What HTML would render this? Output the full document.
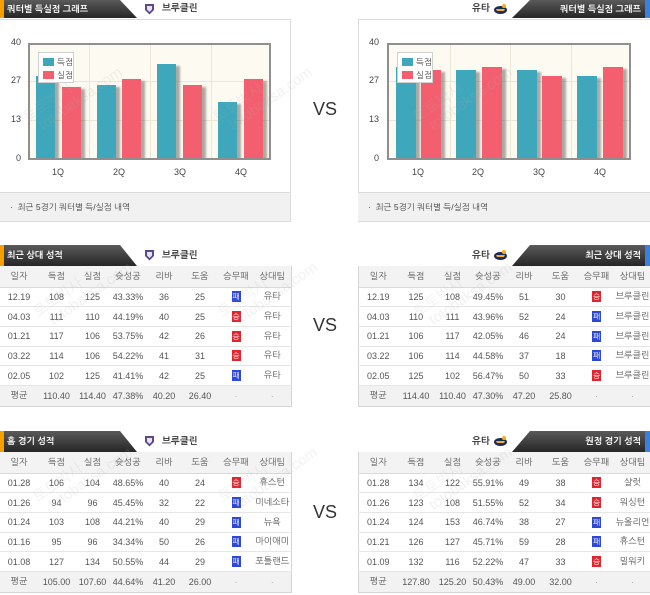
<!DOCTYPE html>
<html><head><meta charset="utf-8">
<style>
*{margin:0;padding:0;box-sizing:border-box}
body{width:650px;height:595px;background:#fff;position:relative;overflow:hidden;font-family:"Liberation Sans","NanumGothic","Noto Sans CJK KR",sans-serif;color:#555}
.a{position:absolute}
.tabL,.tabR{position:absolute;background:linear-gradient(#5a5a5a,#262626);color:#fff;font-weight:bold;font-size:9px;white-space:nowrap}
.tabL{left:0;clip-path:polygon(0 0,120px 0,137px 100%,0 100%);width:137px;padding-left:7px}
.tabR{left:512px;width:133px;clip-path:polygon(18px 0,100% 0,100% 100%,0 100%);text-align:right;padding-right:4px}
.strO{position:absolute;left:0;width:4px;background:#f5a000}
.strB{position:absolute;left:645px;width:5px;background:#3b7fe0}
.team{position:absolute;font-size:9.5px;font-weight:bold;color:#333;white-space:nowrap}
.panel{position:absolute;border:1px solid #dcdcdc;background:#fff}
.plot{position:absolute;border:2px solid #8f8f8f;background:#fdfaf1;overflow:hidden}
.gh{position:absolute;left:0;right:0;height:1px;background:#ece6d4}
.gv{position:absolute;top:0;bottom:0;width:1px;background:#ece6d4}
.bar{position:absolute;bottom:0;box-shadow:4px 2px 2px rgba(70,70,70,0.45)}
.t{background:#3fa7bb}.r{background:#f45f6f}
.yl{position:absolute;font-size:9px;color:#444;text-align:right;width:20px}
.xl{position:absolute;font-size:9px;color:#444;text-align:center;width:30px}
.leg{position:absolute;background:#fff;border:1px solid #d0d0d0;width:36px;height:31px}
.leg i{position:absolute;left:4px;width:11px;height:8px}
.leg span{position:absolute;left:18px;font-size:8.5px;color:#444;white-space:nowrap;line-height:10px}
.foot{position:absolute;height:30px;background:#f1f1f1;border-top:1px solid #dcdcdc;border-bottom:1px solid #dcdcdc;font-size:8.5px;color:#444;line-height:28px;padding-left:10px;white-space:nowrap}
.vs{position:absolute;left:300px;width:50px;text-align:center;font-size:18px;color:#333}
table{position:absolute;border-collapse:collapse;table-layout:fixed;font-size:9px;color:#555}
td{text-align:center;border-bottom:1px solid #e6e6e6;white-space:nowrap;overflow:hidden;padding:0}
tr.h td{background:#f3f3f3;height:21px;border-bottom:1px solid #dadada}
tr.d td{height:19.7px}
tr.v td{background:#f2f2f2;height:21px;border-bottom:1px solid #d5d5d5}
.tl{border-right:1px solid #d5d5d5}
.tr{border-left:1px solid #d5d5d5}
b.w,b.l{display:inline-block;width:9px;height:11px;font-size:7.5px;line-height:11px;color:#fff;font-weight:normal;vertical-align:middle}
b.w{background:#e3232d}b.l{background:#2d47d8}
.dot{color:#aaa}
.wm{position:absolute;color:rgba(170,170,170,0.17);font-size:15px;transform:rotate(-35deg);white-space:nowrap;line-height:15px}
</style></head><body>

<!-- ===== Section 1 ===== -->
<div class="tabL" style="top:0;height:18px;line-height:18px">쿼터별 득실점 그래프</div>
<div class="strO" style="top:0;height:18px"></div>
<svg class="a" style="left:144px;top:3px" width="11" height="12" viewBox="0 0 11 12"><path d="M1 1h9v6l-4.5 4.5L1 7z" fill="#5b4a8a"/><path d="M3 3h5v3.5L5.5 9 3 6.5z" fill="#e8e2f0"/></svg>
<div class="team" style="left:162px;top:3px">브루클린</div>

<div class="team" style="left:472px;top:3px">유타</div>
<svg class="a" style="left:493px;top:3px" width="15" height="12" viewBox="0 0 15 12"><ellipse cx="7.5" cy="7" rx="6.5" ry="4" fill="#1d2b5c"/><path d="M3 6h9l-1 2H4z" fill="#f3b31b"/><circle cx="11" cy="3" r="2" fill="#f3b31b"/></svg>
<div class="tabR" style="top:0;height:18px;line-height:18px">쿼터별 득실점 그래프</div>
<div class="strB" style="top:0;height:18px"></div>

<div class="panel" style="left:-1px;top:19px;width:292px;height:203px"></div>
<div class="panel" style="left:358px;top:19px;width:293px;height:203px"></div>

<!-- left chart -->
<div class="yl" style="left:1px;top:37px">40</div>
<div class="yl" style="left:1px;top:75px">27</div>
<div class="yl" style="left:1px;top:114px">13</div>
<div class="yl" style="left:1px;top:153px">0</div>
<div class="plot" style="left:28px;top:43px;width:243px;height:117px">
  <div class="gh" style="top:36px"></div><div class="gh" style="top:75px"></div>
  <div class="gv" style="left:59px"></div><div class="gv" style="left:120px"></div><div class="gv" style="left:181px"></div>
  <div class="bar t" style="left:6px;width:19px;height:82px"></div>
  <div class="bar r" style="left:32px;width:19px;height:71px"></div>
  <div class="bar t" style="left:67px;width:19px;height:73px"></div>
  <div class="bar r" style="left:92px;width:19px;height:79px"></div>
  <div class="bar t" style="left:127px;width:19px;height:94px"></div>
  <div class="bar r" style="left:153px;width:19px;height:73px"></div>
  <div class="bar t" style="left:188px;width:19px;height:56px"></div>
  <div class="bar r" style="left:214px;width:19px;height:79px"></div>
</div>
<div class="leg" style="left:38px;top:52px"><i class="t" style="top:5px"></i><span style="top:4px">득점</span><i class="r" style="top:18px"></i><span style="top:17px">실점</span></div>
<div class="xl" style="left:43px;top:167px">1Q</div>
<div class="xl" style="left:104px;top:167px">2Q</div>
<div class="xl" style="left:165px;top:167px">3Q</div>
<div class="xl" style="left:226px;top:167px">4Q</div>
<div class="foot" style="left:0;top:192px;width:290px">·&nbsp; 최근 5경기 쿼터별 득/실점 내역</div>

<!-- right chart -->
<div class="yl" style="left:359px;top:37px">40</div>
<div class="yl" style="left:359px;top:75px">27</div>
<div class="yl" style="left:359px;top:114px">13</div>
<div class="yl" style="left:359px;top:153px">0</div>
<div class="plot" style="left:387px;top:43px;width:244px;height:117px">
  <div class="gh" style="top:36px"></div><div class="gh" style="top:75px"></div>
  <div class="gv" style="left:61px"></div><div class="gv" style="left:121px"></div><div class="gv" style="left:182px"></div>
  <div class="bar t" style="left:7px;width:20px;height:91px"></div>
  <div class="bar r" style="left:32px;width:20px;height:88px"></div>
  <div class="bar t" style="left:67px;width:20px;height:88px"></div>
  <div class="bar r" style="left:93px;width:20px;height:91px"></div>
  <div class="bar t" style="left:128px;width:20px;height:88px"></div>
  <div class="bar r" style="left:153px;width:20px;height:82px"></div>
  <div class="bar t" style="left:188px;width:20px;height:82px"></div>
  <div class="bar r" style="left:214px;width:20px;height:91px"></div>
</div>
<div class="leg" style="left:397px;top:52px"><i class="t" style="top:5px"></i><span style="top:4px">득점</span><i class="r" style="top:18px"></i><span style="top:17px">실점</span></div>
<div class="xl" style="left:403px;top:167px">1Q</div>
<div class="xl" style="left:463px;top:167px">2Q</div>
<div class="xl" style="left:524px;top:167px">3Q</div>
<div class="xl" style="left:585px;top:167px">4Q</div>
<div class="foot" style="left:358px;top:192px;width:292px">·&nbsp; 최근 5경기 쿼터별 득/실점 내역</div>

<div class="vs" style="top:99px">VS</div>

<!-- ===== Section 2 ===== -->
<div class="tabL" style="top:245px;height:21px;line-height:21px">최근 상대 성적</div>
<div class="strO" style="top:245px;height:21px"></div>
<svg class="a" style="left:144px;top:249px" width="11" height="12" viewBox="0 0 11 12"><path d="M1 1h9v6l-4.5 4.5L1 7z" fill="#5b4a8a"/><path d="M3 3h5v3.5L5.5 9 3 6.5z" fill="#e8e2f0"/></svg>
<div class="team" style="left:162px;top:250px">브루클린</div>
<div class="team" style="left:472px;top:250px">유타</div>
<svg class="a" style="left:493px;top:249px" width="15" height="12" viewBox="0 0 15 12"><ellipse cx="7.5" cy="7" rx="6.5" ry="4" fill="#1d2b5c"/><path d="M3 6h9l-1 2H4z" fill="#f3b31b"/><circle cx="11" cy="3" r="2" fill="#f3b31b"/></svg>
<div class="tabR" style="top:245px;height:21px;line-height:21px">최근 상대 성적</div>
<div class="strB" style="top:245px;height:21px"></div>

<table class="tl" style="left:0;top:266px;width:291px">
<colgroup><col style="width:38px"><col style="width:37px"><col style="width:35px"><col style="width:36px"><col style="width:36px"><col style="width:36px"><col style="width:36px"><col style="width:37px"></colgroup>
<tr class="h"><td>일자</td><td>득점</td><td>실점</td><td>슛성공</td><td>리바</td><td>도움</td><td>승무패</td><td>상대팀</td></tr>
<tr class="d"><td>12.19</td><td>108</td><td>125</td><td>43.33%</td><td>36</td><td>25</td><td><b class="l">패</b></td><td>유타</td></tr>
<tr class="d"><td>04.03</td><td>111</td><td>110</td><td>44.19%</td><td>40</td><td>25</td><td><b class="w">승</b></td><td>유타</td></tr>
<tr class="d"><td>01.21</td><td>117</td><td>106</td><td>53.75%</td><td>42</td><td>26</td><td><b class="w">승</b></td><td>유타</td></tr>
<tr class="d"><td>03.22</td><td>114</td><td>106</td><td>54.22%</td><td>41</td><td>31</td><td><b class="w">승</b></td><td>유타</td></tr>
<tr class="d"><td>02.05</td><td>102</td><td>125</td><td>41.41%</td><td>42</td><td>25</td><td><b class="l">패</b></td><td>유타</td></tr>
<tr class="v"><td>평균</td><td>110.40</td><td>114.40</td><td>47.38%</td><td>40.20</td><td>26.40</td><td class="dot">·</td><td class="dot">·</td></tr>
</table>

<table class="tr" style="left:358px;top:266px;width:292px">
<colgroup><col style="width:39px"><col style="width:37px"><col style="width:36px"><col style="width:35px"><col style="width:37px"><col style="width:36px"><col style="width:36px"><col style="width:36px"></colgroup>
<tr class="h"><td>일자</td><td>득점</td><td>실점</td><td>슛성공</td><td>리바</td><td>도움</td><td>승무패</td><td>상대팀</td></tr>
<tr class="d"><td>12.19</td><td>125</td><td>108</td><td>49.45%</td><td>51</td><td>30</td><td><b class="w">승</b></td><td>브루클린</td></tr>
<tr class="d"><td>04.03</td><td>110</td><td>111</td><td>43.96%</td><td>52</td><td>24</td><td><b class="l">패</b></td><td>브루클린</td></tr>
<tr class="d"><td>01.21</td><td>106</td><td>117</td><td>42.05%</td><td>46</td><td>24</td><td><b class="l">패</b></td><td>브루클린</td></tr>
<tr class="d"><td>03.22</td><td>106</td><td>114</td><td>44.58%</td><td>37</td><td>18</td><td><b class="l">패</b></td><td>브루클린</td></tr>
<tr class="d"><td>02.05</td><td>125</td><td>102</td><td>56.47%</td><td>50</td><td>33</td><td><b class="w">승</b></td><td>브루클린</td></tr>
<tr class="v"><td>평균</td><td>114.40</td><td>110.40</td><td>47.30%</td><td>47.20</td><td>25.80</td><td class="dot">·</td><td class="dot">·</td></tr>
</table>

<div class="vs" style="top:315px">VS</div>

<!-- ===== Section 3 ===== -->
<div class="tabL" style="top:431px;height:21px;line-height:21px">홈 경기 성적</div>
<div class="strO" style="top:431px;height:21px"></div>
<svg class="a" style="left:144px;top:435px" width="11" height="12" viewBox="0 0 11 12"><path d="M1 1h9v6l-4.5 4.5L1 7z" fill="#5b4a8a"/><path d="M3 3h5v3.5L5.5 9 3 6.5z" fill="#e8e2f0"/></svg>
<div class="team" style="left:162px;top:436px">브루클린</div>
<div class="team" style="left:472px;top:436px">유타</div>
<svg class="a" style="left:493px;top:435px" width="15" height="12" viewBox="0 0 15 12"><ellipse cx="7.5" cy="7" rx="6.5" ry="4" fill="#1d2b5c"/><path d="M3 6h9l-1 2H4z" fill="#f3b31b"/><circle cx="11" cy="3" r="2" fill="#f3b31b"/></svg>
<div class="tabR" style="top:431px;height:21px;line-height:21px">원정 경기 성적</div>
<div class="strB" style="top:431px;height:21px"></div>

<table class="tl" style="left:0;top:452px;width:291px">
<colgroup><col style="width:38px"><col style="width:37px"><col style="width:35px"><col style="width:36px"><col style="width:36px"><col style="width:36px"><col style="width:36px"><col style="width:37px"></colgroup>
<tr class="h"><td>일자</td><td>득점</td><td>실점</td><td>슛성공</td><td>리바</td><td>도움</td><td>승무패</td><td>상대팀</td></tr>
<tr class="d"><td>01.28</td><td>106</td><td>104</td><td>48.65%</td><td>40</td><td>24</td><td><b class="w">승</b></td><td>휴스턴</td></tr>
<tr class="d"><td>01.26</td><td>94</td><td>96</td><td>45.45%</td><td>32</td><td>22</td><td><b class="l">패</b></td><td>미네소타</td></tr>
<tr class="d"><td>01.24</td><td>103</td><td>108</td><td>44.21%</td><td>40</td><td>29</td><td><b class="l">패</b></td><td>뉴욕</td></tr>
<tr class="d"><td>01.16</td><td>95</td><td>96</td><td>34.34%</td><td>50</td><td>26</td><td><b class="l">패</b></td><td>마이애미</td></tr>
<tr class="d"><td>01.08</td><td>127</td><td>134</td><td>50.55%</td><td>44</td><td>29</td><td><b class="l">패</b></td><td>포틀랜드</td></tr>
<tr class="v"><td>평균</td><td>105.00</td><td>107.60</td><td>44.64%</td><td>41.20</td><td>26.00</td><td class="dot">·</td><td class="dot">·</td></tr>
</table>

<table class="tr" style="left:358px;top:452px;width:292px">
<colgroup><col style="width:39px"><col style="width:37px"><col style="width:36px"><col style="width:35px"><col style="width:37px"><col style="width:36px"><col style="width:36px"><col style="width:36px"></colgroup>
<tr class="h"><td>일자</td><td>득점</td><td>실점</td><td>슛성공</td><td>리바</td><td>도움</td><td>승무패</td><td>상대팀</td></tr>
<tr class="d"><td>01.28</td><td>134</td><td>122</td><td>55.91%</td><td>49</td><td>38</td><td><b class="w">승</b></td><td>샬럿</td></tr>
<tr class="d"><td>01.26</td><td>123</td><td>108</td><td>51.55%</td><td>52</td><td>34</td><td><b class="w">승</b></td><td>워싱턴</td></tr>
<tr class="d"><td>01.24</td><td>124</td><td>153</td><td>46.74%</td><td>38</td><td>27</td><td><b class="l">패</b></td><td>뉴올리언</td></tr>
<tr class="d"><td>01.21</td><td>126</td><td>127</td><td>45.71%</td><td>59</td><td>28</td><td><b class="l">패</b></td><td>휴스턴</td></tr>
<tr class="d"><td>01.09</td><td>132</td><td>116</td><td>52.22%</td><td>47</td><td>33</td><td><b class="w">승</b></td><td>밀워키</td></tr>
<tr class="v"><td>평균</td><td>127.80</td><td>125.20</td><td>50.43%</td><td>49.00</td><td>32.00</td><td class="dot">·</td><td class="dot">·</td></tr>
</table>

<div class="vs" style="top:502px">VS</div>

<!-- watermarks -->
<div class="wm" style="left:20px;top:80px">토토박사<br>&nbsp;&nbsp;totobaksa.com</div>
<div class="wm" style="left:210px;top:80px">토토박사<br>&nbsp;&nbsp;totobaksa.com</div>
<div class="wm" style="left:410px;top:80px">토토박사<br>&nbsp;&nbsp;totobaksa.com</div>
<div class="wm" style="left:30px;top:275px">토토박사<br>&nbsp;&nbsp;totobaksa.com</div>
<div class="wm" style="left:215px;top:275px">토토박사<br>&nbsp;&nbsp;totobaksa.com</div>
<div class="wm" style="left:410px;top:275px">토토박사<br>&nbsp;&nbsp;totobaksa.com</div>
<div class="wm" style="left:30px;top:460px">토토박사<br>&nbsp;&nbsp;totobaksa.com</div>
<div class="wm" style="left:215px;top:460px">토토박사<br>&nbsp;&nbsp;totobaksa.com</div>
<div class="wm" style="left:410px;top:460px">토토박사<br>&nbsp;&nbsp;totobaksa.com</div>
</body></html>
